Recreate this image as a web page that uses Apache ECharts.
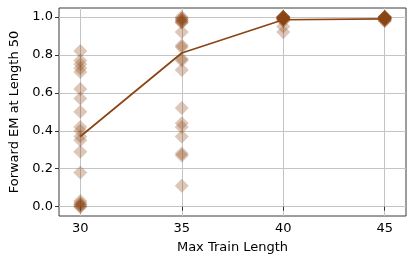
<!DOCTYPE html>
<html><head><meta charset="utf-8">
<script src="https://cdn.jsdelivr.net/npm/echarts@6/dist/echarts.min.js"></script>
<style>html,body{margin:0;padding:0;background:#fff}#c{width:415px;height:266px}</style>
</head><body><div id="c"></div>
<script>
const trainLengths = [30, 35, 40, 45];
const seeds30 = [0.82, 0.77, 0.75, 0.73, 0.71, 0.62, 0.57, 0.50, 0.42, 0.40, 0.37, 0.35, 0.29, 0.18, 0.03, 0.02, 0.01, 0.00, 0.00, 0.01];
const seeds35 = [1.00, 0.99, 0.98, 0.97, 0.97, 0.92, 0.85, 0.84, 0.78, 0.77, 0.72, 0.52, 0.44, 0.42, 0.37, 0.28, 0.27, 0.11, 0.99, 0.98];
const seeds40 = [1.00, 1.00, 0.99, 0.99, 0.99, 0.98, 1.00, 0.99, 0.95, 0.92, 1.00, 0.99, 0.99, 1.00, 0.98, 0.99, 1.00, 0.99, 0.99, 1.00];
const seeds45 = [1.00, 0.99, 0.99, 1.00, 0.98, 0.99, 1.00, 0.99, 0.99, 1.00, 0.98, 0.99, 1.00, 0.99, 0.99, 1.00, 0.99, 0.98, 1.00, 0.99];
const meanEM = [0.37, 0.81, 0.985, 0.99];
const xTicks = [30, 35, 40, 45];
const yTicks = [0.0, 0.2, 0.4, 0.6, 0.8, 1.0];

const allSeeds = [seeds30, seeds35, seeds40, seeds45];
const scatterData = [];
allSeeds.forEach((arr, i) => arr.forEach(v => scatterData.push([trainLengths[i], v])));
const lineData = trainLengths.map((x, i) => [x, meanEM[i]]);

const brown = '#8B4513';
const font = 'DejaVu Sans';
const chart = echarts.init(document.getElementById('c'));
chart.setOption({
  animation: false,
  grid: { left: 58, right: 9, top: 8, bottom: 50, show: true, borderColor: '#3a3a3a', borderWidth: 1, backgroundColor: 'transparent' },
  xAxis: {
    type: 'value', min: 28.95, max: 46.05,
    name: 'Max Train Length', nameLocation: 'middle', nameGap: 25,
    nameTextStyle: { fontFamily: font, fontSize: 13, color: '#000' },
    axisLine: { show: false },
    axisTick: { show: true, length: 4, customValues: xTicks, lineStyle: { color: '#333' } },
    axisLabel: { customValues: xTicks, margin: 6, fontFamily: font, fontSize: 13, color: '#000' },
    splitLine: { show: true, lineStyle: { color: '#c4c4c4', width: 1 } }
  },
  yAxis: {
    type: 'value', min: -0.049, max: 1.047,
    name: 'Forward EM at Length 50', nameLocation: 'middle', nameGap: 38,
    nameTextStyle: { fontFamily: font, fontSize: 13, color: '#000' },
    axisLine: { show: false },
    axisTick: { show: true, length: 4, customValues: yTicks, lineStyle: { color: '#333' } },
    axisLabel: { customValues: yTicks, margin: 6, fontFamily: font, fontSize: 13, color: '#000', formatter: v => v.toFixed(1) },
    splitLine: { show: true, lineStyle: { color: '#c4c4c4', width: 1 } }
  },
  series: [
    { type: 'scatter', data: scatterData, symbol: 'diamond', symbolSize: 14,
      itemStyle: { color: brown, opacity: 0.3 }, z: 2 },
    { type: 'line', data: lineData, symbol: 'none', lineStyle: { color: brown, width: 1.7 }, z: 3 }
  ]
});
</script></body></html>
